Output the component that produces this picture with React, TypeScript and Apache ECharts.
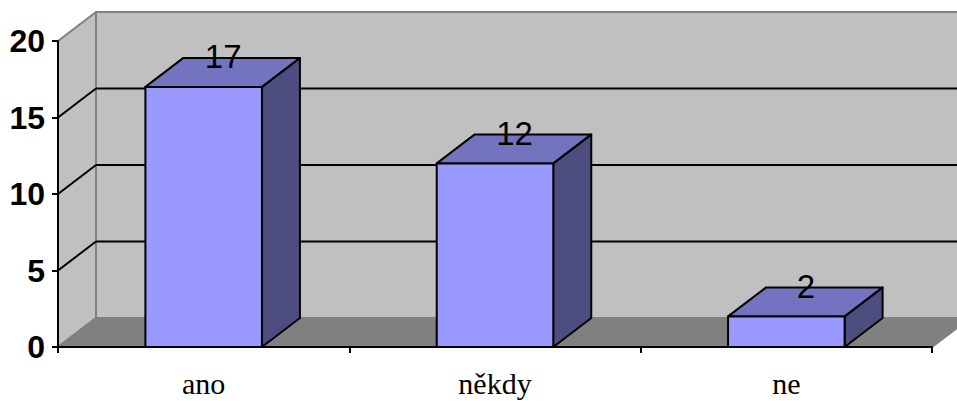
import React, { useEffect, useRef } from "react";
import * as echarts from "echarts";

const categories = ["ano", "někdy", "ne"];
const values = [17, 12, 2];
const yTicks = [5, 10, 15];
const yMin = 0;
const yMax = 20;
const yStep = 5;

const DX = 38;
const DY = -29;
const BAR_RATIO = 0.4;
const GRAY = "#808080";
const WALL = "#C0C0C0";
const FRONT = "#9999FF";
const TOP = "#7373BF";
const SIDE = "#4D4D80";

export default function App() {
  const ref = useRef<HTMLDivElement>(null);
  useEffect(() => {
    document.body.style.margin = "0";
    const chart = echarts.init(ref.current!, undefined, { renderer: "svg" });
    const poly = (points: number[][], fill: string, stroke: string, lineWidth: number) => ({
      type: "polygon",
      shape: { points },
      style: { fill, stroke, lineWidth, lineJoin: "round" },
    });
    const seg = (a: number[], b: number[], stroke: string, lineWidth: number) => ({
      type: "line",
      shape: { x1: a[0], y1: a[1], x2: b[0], y2: b[1] },
      style: { stroke, lineWidth },
    });
    const renderWalls = (_: any, api: any) => {
      const x0 = api.coord([0, yMin])[0] - api.size([1, 0])[0] / 2;
      const x1 = x0 + api.size([1, 0])[0] * categories.length;
      const y0 = api.coord([0, yMin])[1];
      const y1 = api.coord([0, yMax])[1];
      const children: any[] = [
        poly([[x0, y0], [x0 + DX, y0 + DY], [x0 + DX, y1 + DY], [x0, y1]], WALL, GRAY, 2),
        poly([[x0 + DX, y0 + DY], [x1 + DX, y0 + DY], [x1 + DX, y1 + DY], [x0 + DX, y1 + DY]], WALL, GRAY, 2),
        poly([[x0, y0], [x1, y0], [x1 + DX, y0 + DY], [x0 + DX, y0 + DY]], GRAY, GRAY, 2),
      ];
      yTicks.forEach((t) => {
        const y = api.coord([0, t])[1];
        children.push(seg([x0, y], [x0 + DX, y + DY], "#000", 2));
        children.push(seg([x0 + DX, y + DY], [x1 + DX, y + DY], "#000", 2));
      });
      return { type: "group", children };
    };
    const renderBar = (_: any, api: any) => {
      const i = api.value(0);
      const v = api.value(1);
      const base = api.coord([i, yMin]);
      const top = api.coord([i, v]);
      const w = api.size([1, 0])[0] * BAR_RATIO;
      const l = base[0] - w / 2;
      const r = base[0] + w / 2;
      return {
        type: "group",
        children: [
          poly([[r, base[1]], [r + DX, base[1] + DY], [r + DX, top[1] + DY], [r, top[1]]], SIDE, "#000", 2),
          poly([[l, top[1]], [r, top[1]], [r + DX, top[1] + DY], [l + DX, top[1] + DY]], TOP, "#000", 2),
          poly([[l, base[1]], [r, base[1]], [r, top[1]], [l, top[1]]], FRONT, "#000", 2),
          {
            type: "text",
            x: base[0] + DX / 2 + 0.5,
            y: top[1] + DY - 1,
            style: {
              text: String(v),
              fill: "#000",
              font: '33px "Liberation Sans"',
              align: "center",
              verticalAlign: "middle",
            },
          },
        ],
      };
    };
    chart.setOption({
      animation: false,
      backgroundColor: "#fff",
      grid: { left: 58, right: 25, top: 41, bottom: 54 },
      xAxis: {
        type: "category",
        data: categories,
        z: 5,
        axisLine: { lineStyle: { color: "#000", width: 2 } },
        axisTick: { show: true, alignWithLabel: false, length: 6, lineStyle: { color: "#000", width: 2 } },
        axisLabel: { fontFamily: "Liberation Serif", fontSize: 30, color: "#000", margin: 21 },
        splitLine: { show: false },
      },
      yAxis: {
        type: "value",
        min: yMin,
        max: yMax,
        interval: yStep,
        z: 5,
        axisLine: { show: true, lineStyle: { color: "#000", width: 2 } },
        axisTick: { show: true, length: 6, lineStyle: { color: "#000", width: 2 } },
        axisLabel: { fontFamily: "Liberation Sans", fontWeight: "bold", fontSize: 32, color: "#000", margin: 13 },
        splitLine: { show: false },
      },
      series: [
        { type: "custom", z: 1, renderItem: renderWalls, data: [[0, 0]], encode: { x: 0, y: 1 }, clip: false, silent: true },
        { type: "custom", z: 2, renderItem: renderBar, data: values.map((v, i) => [i, v]), encode: { x: 0, y: 1 }, clip: false },
      ],
    });
    return () => chart.dispose();
  }, []);
  return <div ref={ref} style={{ width: 957, height: 401 }} />;
}
